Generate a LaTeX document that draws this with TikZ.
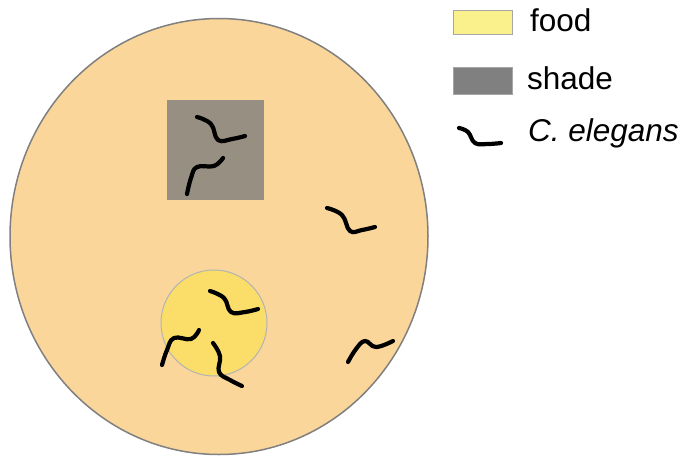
\documentclass[tikz,border=0pt]{standalone}
\usepackage{fontspec}
\setmainfont{Liberation Sans}
\usetikzlibrary{positioning}

\definecolor{agar}{RGB}{250,214,155}
\definecolor{shadebox}{RGB}{150,143,130}
\definecolor{foodspot}{RGB}{250,222,105}
\definecolor{foodkey}{RGB}{250,240,140}
\definecolor{shadekey}{RGB}{128,128,128}
\definecolor{rim}{RGB}{128,128,128}

\begin{document}
\begin{tikzpicture}[x=1pt, y=-1pt,
    worm/.style={line width=4.2pt, line cap=round, line join=round},
    key-box/.style={draw=rim!70, line width=1pt, inner sep=0pt, minimum width=59pt},
    key-text/.style={anchor=base west, inner sep=0pt, font=\fontsize{31.5}{36}\selectfont}
  ]
  \useasboundingbox (0,0) rectangle (683,456);

  % plate, shaded patch and food spot
  \draw[rim, fill=agar, line width=1.5pt] (219,236.5) ellipse [x radius=209, y radius=218];
  \fill[shadebox] (167,100) rectangle (264,200);
  \draw[rim!60, fill=foodspot, line width=1pt] (214,323) circle [radius=53];

  % worms
  \draw[worm] plot[smooth, tension=0.7] coordinates {(197,117) (211,124) (218,140) (232,139) (245,136)};
  \draw[worm] plot[smooth, tension=0.7] coordinates {(223,158) (214,166) (197,167) (191,178) (187,194)};
  \draw[worm] plot[smooth, tension=0.7] coordinates {(210,291) (224,298) (231,312) (245,312) (258,309)};
  \draw[worm] plot[smooth, tension=0.7] coordinates {(199,330) (191,339) (174,338) (167,350) (162,365)};
  \draw[worm] plot[smooth, tension=0.7] coordinates {(213,343) (220,356) (219,372) (230,380) (242,386)};
  \draw[worm] plot[smooth, tension=0.7] coordinates {(327,208) (342,215) (350,231) (362,230) (375,227)};
  \draw[worm] plot[smooth, tension=0.7] coordinates {(348,362) (356,349) (365,341) (376,347) (393,341)};

  % legend
  \node[key-box, fill=foodkey, minimum height=24pt] (food-key) at (482.5,22) {};
  \node[key-text] (food-label) at (530,31.7) {food};

  \node[key-box, draw=shadekey!70, fill=shadekey, minimum height=27pt] (shade-key) at (482.5,80.5) {};
  \node[key-text] (shade-label) at (527,89.3) {shade};

  \draw[worm] plot[smooth, tension=0.7] coordinates {(459,128) (468,132) (475,143) (488,144) (501,143)};
  \node[key-text] (worm-label) at (528,141.7) {\itshape C. elegans};
\end{tikzpicture}
\end{document}
